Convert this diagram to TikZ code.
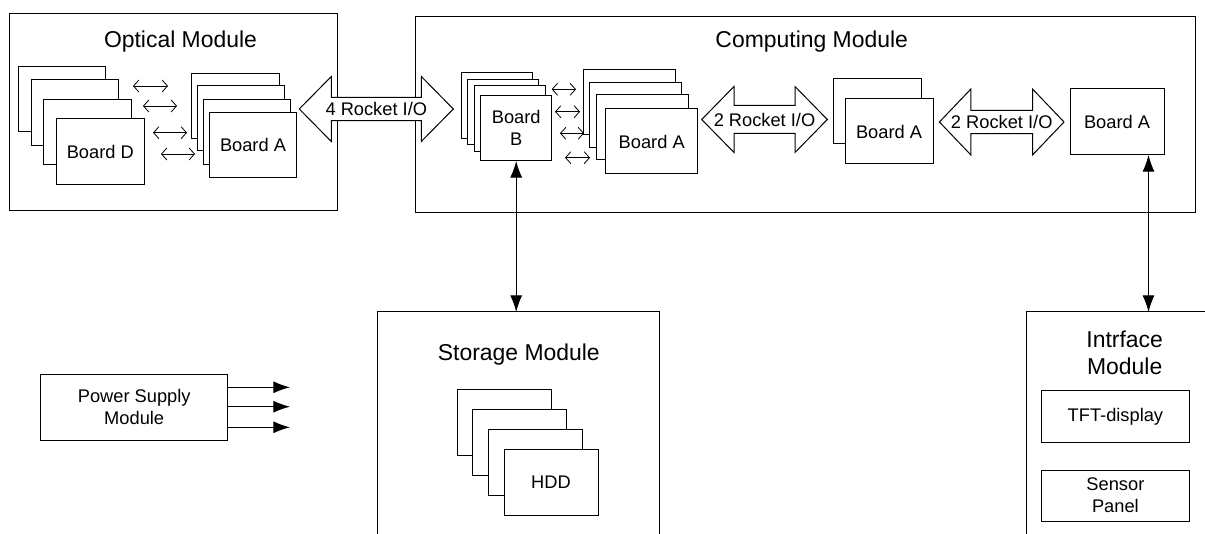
\documentclass[tikz,border=0pt]{standalone}
\usepackage{fontspec}
\setmainfont{Liberation Sans}
\usetikzlibrary{arrows.meta,calc}
\newcommand\blockarrow[6]{% cx cy halflength headlength headhalf shafthalf
 \draw[blk] ({#1-#3},#2) -- ({#1-#3+#4},{#2-#5}) -- ({#1-#3+#4},{#2-#6}) -- ({#1+#3-#4},{#2-#6}) -- ({#1+#3-#4},{#2-#5}) -- ({#1+#3},#2) -- ({#1+#3-#4},{#2+#5}) -- ({#1+#3-#4},{#2+#6}) -- ({#1-#3+#4},{#2+#6}) -- ({#1-#3+#4},{#2+#5}) -- cycle;}
\begin{document}
\begin{tikzpicture}[x=0.75pt,y=-0.75pt,
  sz/.style 2 args={minimum width=#1*0.75pt, minimum height=#2*0.75pt},
  box/.style={draw=black, line width=0.75pt, fill=white, inner sep=0pt, outer sep=0pt},
  small/.style={font=\fontsize{13.7}{16.4}\selectfont, align=center},
  big/.style={font=\fontsize{17.2}{20}\selectfont, align=center},
  link/.style={line width=0.75pt, {Latex[length=12.5pt,width=9pt]}-{Latex[length=12.5pt,width=9pt]}},
  pwr/.style={line width=0.75pt, -{Latex[length=12.5pt,width=9pt]}},
  tiny/.style={line width=0.6pt, {Straight Barb[length=4pt,width=9pt]}-{Straight Barb[length=4pt,width=9pt]}},
  blk/.style={draw=black, line width=0.75pt, fill=white, line join=miter}]
\useasboundingbox (0,0) rectangle (1205,534);

% modules
\node[box, sz={328}{197}] (opt) at (173,112.5) {};
\node[box, sz={780}{196}] (comp) at (805,115) {};
\node[box, sz={281.7}{234}] (st) at (518.2,429) {};
\node[box, sz={190}{234}] (if) at (1121,429) {};
\node[box, sz={187}{65.7}, small] (ps) at (134.2,407.2) {Power Supply\\Module};

\node[big, anchor=base] (optT) at (180.5,47.5) {Optical Module};
\node[big, anchor=base] (compT) at (811.7,47.5) {Computing Module};
\node[big, anchor=base] (stT) at (518.8,360) {Storage Module};
\node[big] (ifT) at (1124.7,353) {Intrface\\Module};

% optical: board D stack
\node[box, sz={87.5}{65.5}] (d1) at (62.2,99.2) {};
\node[box, sz={87.5}{65.5}] (d2) at (75,112.5) {};
\node[box, sz={87.5}{65.5}] (d3) at (87.5,132.2) {};
\node[box, sz={87.5}{65.5}, small] (d4) at (100.3,151.7) {Board D};
% optical: board A stack
\node[box, sz={87.5}{65}] (a1) at (235.4,105.8) {};
\node[box, sz={87.5}{65}] (a2) at (241,118.5) {};
\node[box, sz={87.5}{65}] (a3) at (247,131.8) {};
\node[box, sz={87.5}{65}, small] (a4) at (253,145.2) {Board A};

% computing: board B stack
\node[box, sz={71}{65.5}] (b1) at (497,105.3) {};
\node[box, sz={71}{65.5}] (b2) at (502.8,112) {};
\node[box, sz={71}{65.5}] (b3) at (509.5,118.7) {};
\node[box, sz={71}{65.5}, small] (b4) at (516.2,128.2) {Board\\B};
% computing: board A stack of four
\node[box, sz={92}{65}] (c1) at (629.3,101.8) {};
\node[box, sz={92}{65}] (c2) at (635.3,114.8) {};
\node[box, sz={92}{65}] (c3) at (642,127.5) {};
\node[box, sz={92}{65}, small] (c4) at (651.7,141.5) {Board A};
% computing: board A stack of two
\node[box, sz={88}{65}] (e1) at (877,111.5) {};
\node[box, sz={88}{65}, small] (e2) at (889,131.5) {Board A};
% computing: single board A
\node[box, sz={94}{66}, small] (f) at (1117,122) {Board A};

% storage: HDD stack
\node[box, sz={94}{66}] (h1) at (504.3,422.3) {};
\node[box, sz={94}{66}] (h2) at (519.3,442.3) {};
\node[box, sz={94}{66}] (h3) at (535.3,462.3) {};
\node[box, sz={94}{66}, small] (h4) at (551,482) {HDD};

% interface boards
\node[box, sz={147.3}{51.6}, small] (tft) at (1115.4,416.5) {TFT-display};
\node[box, sz={147.3}{51}, small] (sens) at (1115.4,495.5) {Sensor\\Panel};

% block arrows
\blockarrow{376.3}{109}{77}{32}{32.5}{11.7}
\node[small] (r1) at (376.3,109) {4 Rocket I/O};
\blockarrow{764.5}{119.5}{62.8}{32.3}{33}{14}
\node[small] (r2) at (764.5,119.5) {2 Rocket I/O};
\blockarrow{1001.7}{122}{62.3}{31.5}{33}{11.7}
\node[small] (r3) at (1001.7,122) {2 Rocket I/O};

% small double arrows (optical)
\coordinate (o1a) at (133,86);   \coordinate (o1b) at (168,86);
\coordinate (o2a) at (143,106);  \coordinate (o2b) at (177,106);
\coordinate (o3a) at (153,132.7);\coordinate (o3b) at (187,132.7);
\coordinate (o4a) at (161,154);  \coordinate (o4b) at (195,154);
\draw[tiny] (o1a) -- (o1b);
\draw[tiny] (o2a) -- (o2b);
\draw[tiny] (o3a) -- (o3b);
\draw[tiny] (o4a) -- (o4b);
% small double arrows (computing)
\coordinate (k1a) at (551.7,89.3); \coordinate (k1b) at (576,89.3);
\coordinate (k2a) at (555,111.7);  \coordinate (k2b) at (580,111.7);
\coordinate (k3a) at (560,133.3);  \coordinate (k3b) at (584,133.3);
\coordinate (k4a) at (565,157.7);  \coordinate (k4b) at (590,157.7);
\draw[tiny] (k1a) -- (k1b);
\draw[tiny] (k2a) -- (k2b);
\draw[tiny] (k3a) -- (k3b);
\draw[tiny] (k4a) -- (k4b);

% vertical links
\draw[link] (b4.south) -- (b4.south |- st.north);
\coordinate (ix) at ($(f.south west)!0.835!(f.south east)$);
\draw[link] (ix) -- (ix |- if.north);

% power outputs
\coordinate (p1) at (290,387.3);
\coordinate (p2) at (290,406.7);
\coordinate (p3) at (290,427.3);
\draw[pwr] (ps.east |- p1) -- (p1);
\draw[pwr] (ps.east |- p2) -- (p2);
\draw[pwr] (ps.east |- p3) -- (p3);
\end{tikzpicture}
\end{document}
